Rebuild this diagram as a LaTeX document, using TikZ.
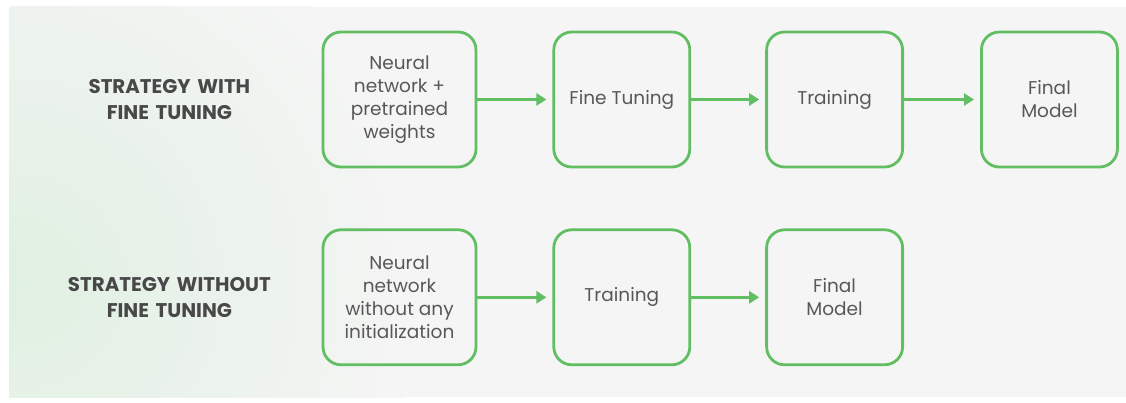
\documentclass[tikz,border=0pt]{standalone}
\usepackage{xcolor}
\usepackage{fontspec}
\setmainfont{Poppins}
\usepackage{tikz}
\usetikzlibrary{positioning, arrows.meta}
\definecolor{boxgreen}{RGB}{98,190,98}
\definecolor{panelgray}{RGB}{245,245,245}
\definecolor{glowgreen}{RGB}{224,240,226}
\definecolor{textgray}{RGB}{88,88,88}
\definecolor{labelgray}{RGB}{72,72,72}
\tikzstyle{stage} = [rectangle, rounded corners=18pt, minimum width=136pt, minimum height=135pt, align=center, draw=boxgreen, line width=2.8pt, text=textgray, font=\fontsize{18.5}{23}\selectfont]
\tikzstyle{strategy} = [text width=230pt, align=center, inner sep=0pt, text=labelgray, font=\bfseries\fontsize{19.8}{26}\selectfont]
\tikzstyle{arrow} = [line width=2.8pt, draw=boxgreen, -{Triangle[length=10pt, width=12pt]}, shorten >=6pt]

\begin{document}
\begin{tikzpicture}[x=1pt, y=1pt]
    % --- Fondo ---
    \useasboundingbox (0,0) rectangle (1126,402);
    \fill[white] (0,0) rectangle (1126,402);
    \fill[panelgray] (9,5) rectangle (1126,395);
    \begin{scope}
        \clip (9,5) rectangle (1126,395);
        \shade[inner color=glowgreen, outer color=panelgray] (20,120) circle (400);
    \end{scope}

    % Strategy with fine tuning
    \node (ftNet) [stage, minimum width=153pt] at (399.5,302.5) {Neural\\network +\\pretrained\\weights};
    \node (ftTune) [stage, right=75pt of ftNet] {Fine Tuning};
    \node (ftTrain) [stage, right=74pt of ftTune] {Training};
    \node (ftFinal) [stage, right=76pt of ftTrain] {Final\\Model};
    \node (ftLabel) [strategy, left=37pt of ftNet] {STRATEGY WITH\\FINE TUNING};

    % Strategy without fine tuning
    \node (noNet) [stage, minimum width=153pt, below=60pt of ftNet] {Neural\\network\\without any\\initialization};
    \node (noTrain) [stage, below=60pt of ftTune] {Training};
    \node (noFinal) [stage, below=60pt of ftTrain] {Final\\Model};
    \node (noLabel) [strategy, left=37pt of noNet] {STRATEGY WITHOUT\\FINE TUNING};

    % --- Flechas ---
    \draw [arrow] (ftNet) -- (ftTune);
    \draw [arrow] (ftTune) -- (ftTrain);
    \draw [arrow] (ftTrain) -- (ftFinal);

    \draw [arrow] (noNet) -- (noTrain);
    \draw [arrow] (noTrain) -- (noFinal);

\end{tikzpicture}
\end{document}
